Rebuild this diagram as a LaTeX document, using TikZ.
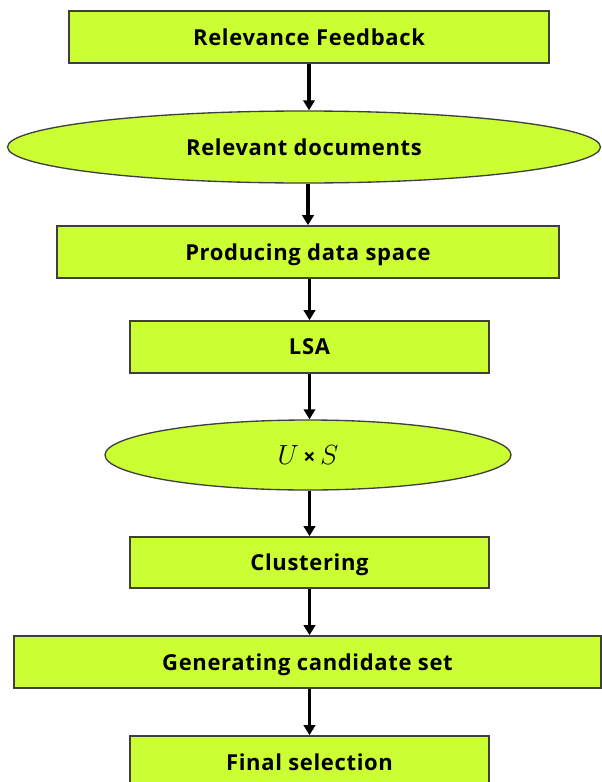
\documentclass[tikz,border=0pt]{standalone}
\usepackage{fontspec}
\setmainfont{Open Sans}[LetterSpace=3]
\usetikzlibrary{arrows.meta,shapes.geometric}
\definecolor{boxfill}{HTML}{CCFF33}
\definecolor{boxline}{HTML}{3F3F3F}
\tikzset{
  px/.style={x=0.75pt,y=-0.75pt},
  steptext/.style={font=\fontsize{16.5}{19}\selectfont\bfseries},
  stepbox/.style={draw=boxline,line width=1.2pt,fill=boxfill,rectangle,inner sep=0pt,
    text depth=0pt,steptext},
  stepoval/.style={draw=boxline,line width=1pt,fill=boxfill,ellipse,inner sep=0pt,steptext},
  flow/.style={line width=2.3pt,-{Triangle[width=8.5pt,length=7.5pt]}}
}
\begin{document}
\begin{tikzpicture}[px]
\useasboundingbox (0,0) rectangle (602,782);
\clip (0,0) rectangle (602,782);
\node[stepbox,minimum width=480*0.75pt,minimum height=52*0.75pt] (fb) at (309,37) {Relevance Feedback};
\node[stepoval,minimum width=593*0.75pt,minimum height=72*0.75pt] (docs) at (304,147) {Relevant documents};
\node[stepbox,minimum width=502*0.75pt,minimum height=52*0.75pt] (space) at (308,252) {Producing data space};
\node[stepbox,minimum width=359*0.75pt,minimum height=52*0.75pt] (lsa) at (309.5,347) {LSA};
\node[stepoval,minimum width=406*0.75pt,minimum height=70*0.75pt,font=\fontsize{20}{22}\selectfont] (us) at (308,455) {$U$\,{\fontsize{16}{18}\selectfont\bfseries ×}\,$S$};
\node[stepbox,minimum width=359*0.75pt,minimum height=51*0.75pt] (clu) at (309.5,562.5) {Clustering};
\node[stepbox,minimum width=587*0.75pt,minimum height=52*0.75pt] (gen) at (307.5,662) {Generating candidate set};
\node[stepbox,minimum width=359*0.75pt,minimum height=52*0.75pt] (fin) at (309.5,762) {Final selection};
\draw[flow] (fb.south) -- (fb.south |- docs.north);
\draw[flow] (space.north |- docs.south) -- (space.north);
\draw[flow] (lsa.north |- space.south) -- (lsa.north);
\draw[flow] (lsa.south) -- (lsa.south |- us.north);
\draw[flow] (clu.north |- us.south) -- (clu.north);
\draw[flow] (clu.south) -- (clu.south |- gen.north);
\draw[flow] (fin.north |- gen.south) -- (fin.north);
\end{tikzpicture}
\end{document}
